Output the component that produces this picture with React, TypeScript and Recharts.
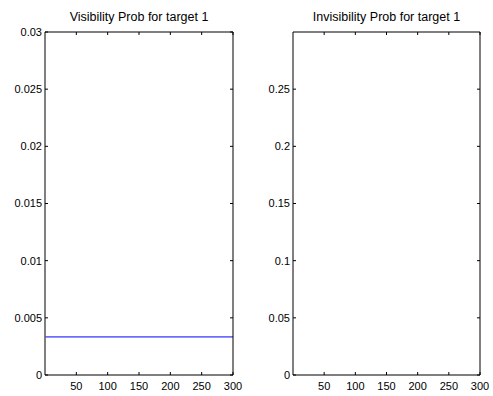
import { LineChart, Line, XAxis, YAxis } from "recharts";

// MATLAB-style subplots: probability of target 1 over time steps
const steps = [1, 300];
const visProb = [0.00333, 0.00333];

const xTicks = [50, 100, 150, 200, 250, 300];
const visTicks = [0, 0.005, 0.01, 0.015, 0.02, 0.025, 0.03];
const invisTicks = [0, 0.05, 0.1, 0.15, 0.2, 0.25];

const titles = ["Visibility Prob for target 1", "Invisibility Prob for target 1"];

const font = '"Liberation Sans", Arial, sans-serif';
const tickStyle = { fill: "#000", fontSize: 11, fontFamily: font };
const blank = () => <g />;

const visData = steps.map((s, i) => ({ step: s, p: visProb[i] }));

function Panel({ left, width, title, yTicks, yMax, yWidth, data }: {
  left: number; width: number; title: string; yTicks: number[]; yMax: number; yWidth: number;
  data: { step: number; p?: number }[];
}) {
  const plotRight = width - 14;
  return (
    <div style={{ position: "absolute", left, top: 0, width, height: 396 }}>
      <div style={{
        position: "absolute", top: 10, left: yWidth, width: plotRight - yWidth,
        textAlign: "center", fontFamily: font, fontSize: 12.5, color: "#000", whiteSpace: "nowrap",
      }}>{title}</div>
      <LineChart width={width} height={396} data={data} margin={{ top: 31, right: 13, bottom: 0, left: 0 }}>
        <XAxis dataKey="step" type="number" domain={[0, 300]} ticks={xTicks} height={21}
          stroke="#000" tickSize={-3} tickMargin={10} tick={tickStyle} interval={0} />
        <XAxis xAxisId="top" orientation="top" dataKey="step" type="number" domain={[0, 300]} ticks={xTicks}
          height={1} stroke="#000" tickSize={-3} tick={blank} interval={0} />
        <YAxis type="number" domain={[0, yMax]} ticks={yTicks} width={yWidth} allowDataOverflow
          stroke="#000" tickSize={-3} tickMargin={6} tick={tickStyle} interval={0} />
        <YAxis yAxisId="right" orientation="right" type="number" domain={[0, yMax]} ticks={yTicks} width={1}
          allowDataOverflow stroke="#000" tickSize={-3} tick={blank} interval={0} />
        <Line dataKey="p" stroke="#0000ff" strokeWidth={1} dot={false} isAnimationActive={false} />
      </LineChart>
    </div>
  );
}

export default function App() {
  return (
    <div style={{ position: "absolute", left: 0, top: 0, width: 493, height: 396, background: "#fff" }}>
      <Panel left={0} width={247} title={titles[0]} yTicks={visTicks} yMax={0.03} yWidth={45} data={visData} />
      <Panel left={247} width={247} title={titles[1]} yTicks={invisTicks} yMax={0.3} yWidth={46}
        data={steps.map((s) => ({ step: s }))} />
    </div>
  );
}
